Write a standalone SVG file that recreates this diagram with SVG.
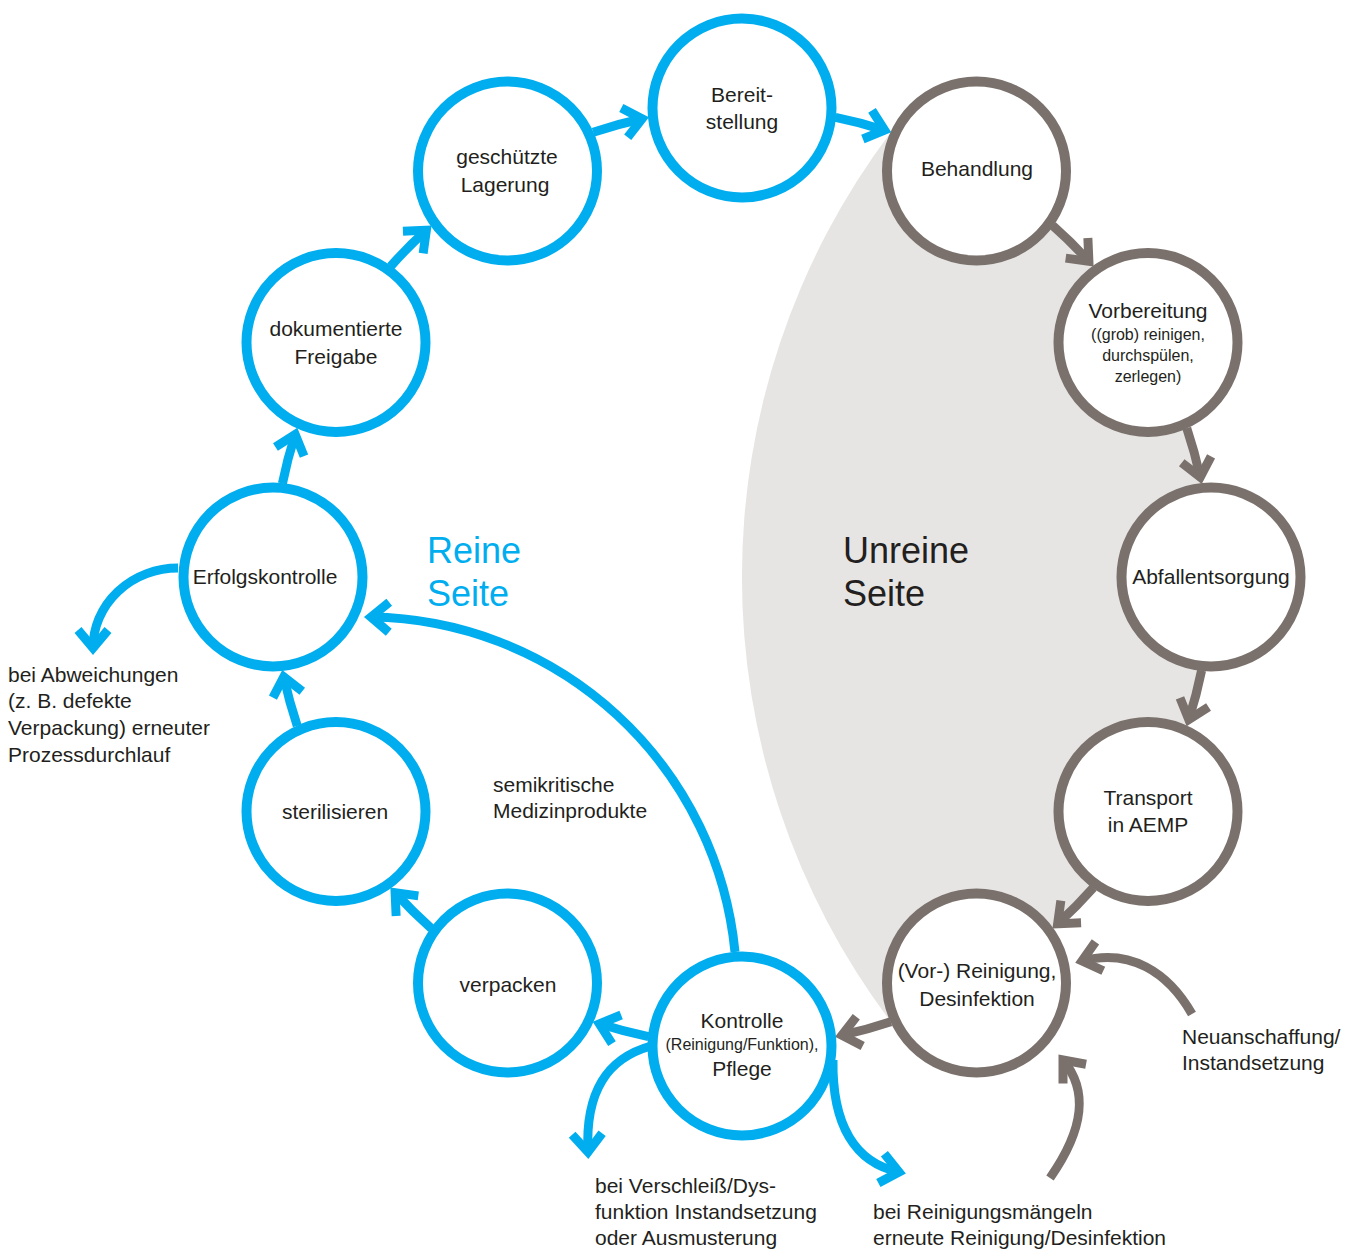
<svg xmlns="http://www.w3.org/2000/svg" width="1346" height="1249" viewBox="0 0 1346 1249">
<style>
.nb{fill:#fff;stroke:#00aeef;stroke-width:10}
.ng{fill:#fff;stroke:#7a716c;stroke-width:10}
.t{font-family:"Liberation Sans",Arial,sans-serif;font-size:21px;fill:#231f20}
.c{text-anchor:middle}
.s{font-size:16px}
.big{font-size:36px}
.blue{fill:#00aeef}
.cb{fill:none;stroke:#00aeef;stroke-width:9;marker-end:url(#ab)}
.cg{fill:none;stroke:#7a716c;stroke-width:9;marker-end:url(#ag)}
</style>
<defs>
<marker id="ab" markerUnits="userSpaceOnUse" orient="auto" overflow="visible" markerWidth="1" markerHeight="1" refX="0" refY="0"><path d="M-18,-15 L0,0 L-18,15" fill="none" stroke="#00aeef" stroke-width="9"/></marker>
<marker id="ag" markerUnits="userSpaceOnUse" orient="auto" overflow="visible" markerWidth="1" markerHeight="1" refX="0" refY="0"><path d="M-18,-15 L0,0 L-18,15" fill="none" stroke="#7a716c" stroke-width="9"/></marker>
</defs>
<path id="unrein-bg" d="M890.8,132.2 A739,739 0 0 0 890.8,1021.8 A469,469 0 0 0 890.8,132.2 Z" fill="#e6e5e3"/>
<g id="connectors">
<path class="cb" d="M282.42,483.49 A469,469 0 0 1 295.20,434.41"/>
<path class="cb" d="M390.74,266.23 A469,469 0 0 1 426.36,230.11"/>
<path class="cb" d="M593.19,132.24 A469,469 0 0 1 642.09,118.76"/>
<path class="cb" d="M835.51,117.42 A469,469 0 0 1 884.59,130.20"/>
<path class="cg" d="M1052.77,225.74 A469,469 0 0 1 1088.89,261.36"/>
<path class="cg" d="M1186.76,428.19 A469,469 0 0 1 1200.24,477.09"/>
<path class="cg" d="M1201.58,670.51 A469,469 0 0 1 1188.80,719.59"/>
<path class="cg" d="M1093.26,887.77 A469,469 0 0 1 1057.64,923.89"/>
<path class="cg" d="M890.81,1021.76 A469,469 0 0 1 841.91,1035.24"/>
<path class="cb" d="M648.49,1036.58 A469,469 0 0 1 599.41,1023.80"/>
<path class="cb" d="M431.23,928.26 A469,469 0 0 1 395.11,892.64"/>
<path class="cb" d="M297.24,725.81 A469,469 0 0 1 283.76,676.91"/>
<path class="cb" d="M735,952 A371,371 0 0 0 371,617"/>
<path class="cb" d="M178,568 A85,80 0 0 0 93,648"/>
<path class="cb" d="M651,1046 C608,1058 585,1090 588,1152"/>
<path class="cb" d="M833,1060 C832,1125 855,1163 899,1172"/>
<path class="cg" d="M1192,1014 C1168,972 1130,948 1082,961"/>
<path class="cg" d="M1050,1178 C1085,1128 1088,1090 1063,1060"/>
</g>
<g id="n-erfolgskontrolle"><circle class="nb" cx="273" cy="577" r="89.5"/><text class="t c" x="265" y="584">Erfolgskontrolle</text></g>
<g id="n-freigabe"><circle class="nb" cx="336" cy="342.5" r="89.5"/><text class="t c" x="336" y="336">dokumentierte</text><text class="t c" x="336" y="364">Freigabe</text></g>
<g id="n-lagerung"><circle class="nb" cx="507.5" cy="171" r="89.5"/><text class="t c" x="507" y="164">geschützte</text><text class="t c" x="505" y="192">Lagerung</text></g>
<g id="n-bereitstellung"><circle class="nb" cx="742" cy="108" r="89.5"/><text class="t c" x="742" y="102">Bereit-</text><text class="t c" x="742" y="129">stellung</text></g>
<g id="n-behandlung"><circle class="ng" cx="976.5" cy="171" r="89.5"/><text class="t c" x="977" y="176">Behandlung</text></g>
<g id="n-vorbereitung"><circle class="ng" cx="1148" cy="342.5" r="89.5"/><text class="t c" x="1148" y="318">Vorbereitung</text><text class="t c s" x="1148" y="340">((grob) reinigen,</text><text class="t c s" x="1148" y="361">durchspülen,</text><text class="t c s" x="1148" y="382">zerlegen)</text></g>
<g id="n-abfallentsorgung"><circle class="ng" cx="1211" cy="577" r="89.5"/><text class="t c" x="1211" y="584">Abfallentsorgung</text></g>
<g id="n-transport"><circle class="ng" cx="1148" cy="811.5" r="89.5"/><text class="t c" x="1148" y="805">Transport</text><text class="t c" x="1148" y="832">in AEMP</text></g>
<g id="n-reinigung"><circle class="ng" cx="976.5" cy="983" r="89.5"/><text class="t c" x="977" y="978">(Vor-) Reinigung,</text><text class="t c" x="977" y="1006">Desinfektion</text></g>
<g id="n-kontrolle"><circle class="nb" cx="742" cy="1046" r="89.5"/><text class="t c" x="742" y="1028">Kontrolle</text><text class="t c s" x="742" y="1050">(Reinigung/Funktion),</text><text class="t c" x="742" y="1076">Pflege</text></g>
<g id="n-verpacken"><circle class="nb" cx="507.5" cy="983" r="89.5"/><text class="t c" x="508" y="992">verpacken</text></g>
<g id="n-sterilisieren"><circle class="nb" cx="336" cy="811.5" r="89.5"/><text class="t c" x="335" y="819">sterilisieren</text></g>
<g id="labels">
<text class="t big blue" x="427" y="563">Reine</text><text class="t big blue" x="427" y="606">Seite</text>
<text class="t big" x="843" y="563">Unreine</text><text class="t big" x="843" y="606">Seite</text>
<text class="t" x="493" y="792">semikritische</text><text class="t" x="493" y="818">Medizinprodukte</text>
<text class="t" x="8" y="682">bei Abweichungen</text><text class="t" x="8" y="708">(z. B. defekte</text><text class="t" x="8" y="735">Verpackung) erneuter</text><text class="t" x="8" y="762">Prozessdurchlauf</text>
<text class="t" x="595" y="1193">bei Verschleiß/Dys-</text><text class="t" x="595" y="1219">funktion Instandsetzung</text><text class="t" x="595" y="1245">oder Ausmusterung</text>
<text class="t" x="873" y="1219">bei Reinigungsmängeln</text><text class="t" x="873" y="1245">erneute Reinigung/Desinfektion</text>
<text class="t" x="1182" y="1044">Neuanschaffung/</text><text class="t" x="1182" y="1070">Instandsetzung</text>
</g>
</svg>
